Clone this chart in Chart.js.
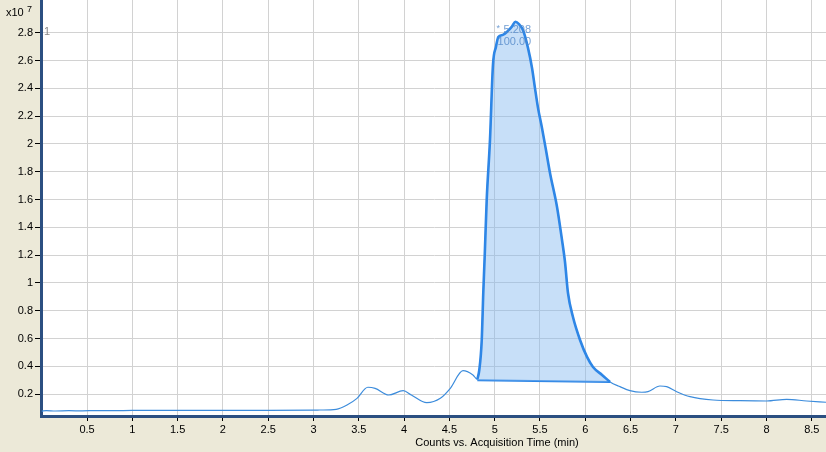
<!DOCTYPE html>
<html>
<head>
<meta charset="utf-8">
<script src="https://cdn.jsdelivr.net/npm/chart.js@4"></script>
<style>
  html, body { margin: 0; padding: 0; background: #ECE9D8; }
  #chart { display: block; }
</style>
</head>
<body>
<canvas id="chart" width="826" height="452"></canvas>
<script>
// acquisition time (min) and counts (x10^7)
const times = [0, 0.05, 0.15, 0.3, 0.45, 0.6, 0.8, 1.0, 1.5, 2.0, 2.5, 3.0, 3.07, 3.25, 3.37, 3.48, 3.6, 3.68, 3.83, 3.99, 4.08, 4.25, 4.4, 4.51, 4.65, 4.76,
  4.808, 4.83, 4.857, 4.874, 4.89, 4.912, 4.948, 4.981, 5.014, 5.04, 5.09, 5.14, 5.19, 5.23, 5.27, 5.312, 5.368, 5.412, 5.445, 5.478, 5.522, 5.566, 5.611,
  5.688, 5.743, 5.776, 5.809, 5.864, 5.942, 6.019, 6.085, 6.185, 6.273, 6.383, 6.493, 6.623, 6.692, 6.824, 6.898, 7.009, 7.156, 7.41, 7.708, 8.002, 8.223, 8.444, 8.657];
const counts = [0.078, 0.082, 0.079, 0.081, 0.080, 0.082, 0.081, 0.083, 0.083, 0.084, 0.084, 0.085, 0.086, 0.091, 0.122, 0.170, 0.250, 0.242, 0.194, 0.225, 0.194, 0.139, 0.170, 0.242, 0.369, 0.338,
  0.307, 0.374, 0.59, 0.93, 1.2, 1.6, 2.03, 2.57, 2.70, 2.77, 2.785, 2.81, 2.845, 2.88, 2.86, 2.82, 2.69, 2.547, 2.40, 2.26, 2.115, 1.957, 1.79,
  1.547, 1.309, 1.151, 0.928, 0.755, 0.59, 0.468, 0.396, 0.338, 0.288, 0.254, 0.225, 0.214, 0.218, 0.259, 0.254, 0.218, 0.182, 0.158, 0.153, 0.151, 0.163, 0.151, 0.142];

// integrated peak: start/end of the drawn baseline
const peakTimes = [4.808, 6.273];
const peakBase = [0.300, 0.288];
const peakRT = '5.208';
const peakArea = '100.00';

const xTicks = [0.5, 1, 1.5, 2, 2.5, 3, 3.5, 4, 4.5, 5, 5.5, 6, 6.5, 7, 7.5, 8, 8.5];
const yTicks = [0.2, 0.4, 0.6, 0.8, 1, 1.2, 1.4, 1.6, 1.8, 2, 2.2, 2.4, 2.6, 2.8];

const trace = times.map((t, i) => ({ x: t, y: counts[i] }));
const peak = trace.filter(p => p.x >= peakTimes[0] && p.x <= peakTimes[1]);
const base = peakTimes.map((t, i) => ({ x: t, y: peakBase[i] }));

Chart.defaults.font.family = 'Liberation Sans, Arial, sans-serif';
Chart.defaults.font.size = 11;
Chart.defaults.color = '#000';

const noPad = s => { s.paddingTop = 0; s.paddingBottom = 0; s.paddingLeft = 0; s.paddingRight = 0; };

const decor = {
  id: 'decor',
  beforeDraw(chart) {
    const { ctx, chartArea: a } = chart;
    ctx.save();
    ctx.fillStyle = '#ECE9D8';
    ctx.fillRect(0, 0, chart.width, chart.height);
    ctx.fillStyle = '#fff';
    ctx.fillRect(a.left, a.top, a.right - a.left, a.bottom - a.top);
    ctx.restore();
  },
  afterDraw(chart) {
    const { ctx } = chart;
    const xs = chart.scales.x;
    ctx.save();
    ctx.fillStyle = '#000';
    ctx.font = '11px Liberation Sans, Arial, sans-serif';
    ctx.textBaseline = 'alphabetic';
    ctx.fillText('x10', 6, 16);
    ctx.font = '9px Liberation Sans, Arial, sans-serif';
    ctx.fillText('7', 27, 12);
    ctx.font = '11px Liberation Sans, Arial, sans-serif';
    ctx.textAlign = 'center';
    ctx.fillText('Counts vs. Acquisition Time (min)', 497, 446);
    ctx.fillStyle = '#888';
    ctx.textAlign = 'left';
    ctx.fillText('1', 44, 35);
    // peak label
    const apex = xs.getPixelForValue(5.23);
    ctx.fillStyle = 'rgba(80,135,200,0.8)';
    ctx.font = '9px Liberation Sans, Arial, sans-serif';
    ctx.fillText('*', apex - 19, 31);
    ctx.font = '11px Liberation Sans, Arial, sans-serif';
    ctx.fillText(peakRT, apex - 12, 33);
    ctx.fillText(peakArea, apex - 18, 45);
    ctx.restore();
  }
};

new Chart(document.getElementById('chart'), {
  type: 'line',
  data: {
    datasets: [
      {
        data: trace,
        borderColor: '#3C8CDC',
        borderWidth: 1.2,
        pointRadius: 0,
        cubicInterpolationMode: 'monotone',
        fill: false,
        order: 3
      },
      {
        data: peak,
        borderColor: '#2E86E6',
        borderWidth: 2.6,
        pointRadius: 0,
        cubicInterpolationMode: 'monotone',
        backgroundColor: 'rgba(130,185,240,0.45)',
        fill: '+1',
        order: 1
      },
      {
        data: base,
        borderColor: '#2E86E6',
        borderWidth: 2,
        pointRadius: 0,
        fill: false,
        order: 2
      }
    ]
  },
  options: {
    responsive: false,
    devicePixelRatio: 1,
    animation: false,
    layout: { padding: 0 },
    plugins: { legend: { display: false }, tooltip: { enabled: false } },
    scales: {
      x: {
        type: 'linear',
        min: -0.008,
        max: 8.657,
        afterFit: s => { s.height = 36; noPad(s); },
        afterBuildTicks: s => { s.ticks = xTicks.map(v => ({ value: v })); },
        ticks: { padding: 2, maxRotation: 0, autoSkip: false, callback: v => String(v) },
        grid: { color: '#D2D2D2', tickColor: '#000', tickLength: 5 },
        border: { color: '#2B4F81', width: 3 }
      },
      y: {
        type: 'linear',
        min: 0.043,
        max: 3.036,
        afterFit: s => { s.width = 41; noPad(s); },
        afterBuildTicks: s => { s.ticks = yTicks.map(v => ({ value: v })); },
        ticks: { padding: 2, autoSkip: false, callback: v => String(+v.toFixed(1)) },
        grid: { color: '#D2D2D2', tickColor: '#000', tickLength: 6 },
        border: { color: '#2B4F81', width: 3 }
      }
    }
  },
  plugins: [decor]
});
</script>
</body>
</html>
